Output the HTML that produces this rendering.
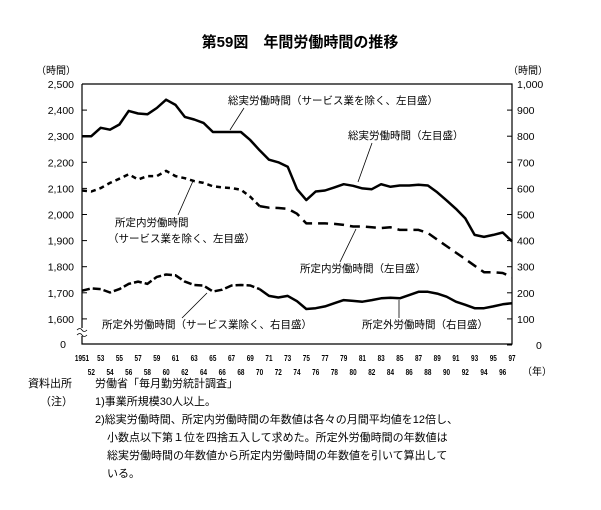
<!DOCTYPE html>
<html><head><meta charset="utf-8">
<style>
body{margin:0;background:#fff;}
svg text{font-family:"Liberation Sans","Noto Sans CJK JP",sans-serif;fill:#000;}
</style></head>
<body>
<svg id="chart" width="601" height="505" viewBox="0 0 601 505" xmlns="http://www.w3.org/2000/svg">
<text x="300" y="47" text-anchor="middle" font-size="15" font-weight="bold">第59図　年間労働時間の推移</text>
<text x="36" y="74" font-size="10">（時間）</text>
<text x="508" y="74" font-size="10">（時間）</text>
<g id="axes"></g>
<g id="series"></g>
<g font-size="10.5">
<text x="228" y="104">総実労働時間（サービス業を除く、左目盛）</text>
<line x1="244" y1="108" x2="230" y2="130" stroke="#000" stroke-width="0.8"/>
<text x="348" y="139">総実労働時間（左目盛）</text>
<line x1="372" y1="143" x2="358" y2="182" stroke="#000" stroke-width="0.8"/>
<text x="115" y="226">所定内労働時間</text>
<text x="108" y="242">（サービス業を除く、左目盛）</text>
<line x1="178" y1="215" x2="193" y2="181" stroke="#000" stroke-width="0.8"/>
<text x="300" y="272">所定内労働時間（左目盛）</text>
<line x1="340" y1="262" x2="356" y2="229" stroke="#000" stroke-width="0.8"/>
<text x="102" y="328">所定外労働時間（サービス業除く、右目盛）</text>
<line x1="182" y1="318" x2="207" y2="293" stroke="#000" stroke-width="0.8"/>
<text x="362" y="328">所定外労働時間（右目盛）</text>
<line x1="399" y1="318" x2="399" y2="300" stroke="#000" stroke-width="0.8"/>
</g>
<g font-size="11">
<text x="28" y="387">資料出所</text>
<text x="95" y="387">労働省「毎月勤労統計調査」</text>
<text x="40" y="405">（注）</text>
<text x="95" y="405">1)事業所規模30人以上。</text>
<text x="95" y="423">2)総実労働時間、所定内労働時間の年数値は各々の月間平均値を12倍し、</text>
<text x="107" y="441">小数点以下第１位を四捨五入して求めた。所定外労働時間の年数値は</text>
<text x="107" y="459">総実労働時間の年数値から所定内労働時間の年数値を引いて算出して</text>
<text x="107" y="477">いる。</text>
</g>
</svg>
<script>
const years = [1951,1952,1953,1954,1955,1956,1957,1958,1959,1960,1961,1962,1963,1964,1965,1966,1967,1968,1969,1970,1971,1972,1973,1974,1975,1976,1977,1978,1979,1980,1981,1982,1983,1984,1985,1986,1987,1988,1989,1990,1991,1992,1993,1994,1995,1996,1997];
const totalHours = [2300,2300,2332,2325,2345,2397,2387,2384,2408,2440,2420,2374,2364,2351,2316,2316,2316,2316,2285,2246,2210,2200,2183,2097,2055,2088,2092,2104,2116,2110,2100,2097,2116,2106,2111,2111,2114,2111,2085,2054,2022,1985,1922,1914,1922,1931,1897];
const scheduledHours = [2092,2088,2101,2121,2137,2154,2134,2147,2147,2167,2147,2139,2128,2121,2108,2104,2101,2095,2068,2032,2026,2025,2022,2003,1966,1966,1966,1964,1960,1954,1954,1951,1948,1951,1941,1941,1941,1929,1904,1879,1854,1829,1804,1779,1779,1776,1760];
const overtimeHours = [208,217,214,201,214,234,243,234,261,270,267,243,230,228,205,212,228,230,228,214,188,182,188,168,138,141,148,160,172,169,166,172,179,181,179,191,204,204,197,185,166,154,141,141,148,156,160];
const splitYear = 1970;
const leftTicks = [1600,1700,1800,1900,2000,2100,2200,2300,2400,2500];
const leftTickLabels = ["1,600","1,700","1,800","1,900","2,000","2,100","2,200","2,300","2,400","2,500"];
const rightTicks = [0,100,200,300,400,500,600,700,800,900,1000];
const rightTickLabels = ["0","100","200","300","400","500","600","700","800","900","1,000"];

const NS="http://www.w3.org/2000/svg";
const X0=82,X1=512,Y0=84,YB=344;
const pxPer=26.1/100;
function xScale(yr){return X0+(yr-years[0])*(X1-X0)/(years[years.length-1]-years[0]);}
function yLeft(v){return Y0+(2500-v)*pxPer;}
function yRight(v){return Y0+(1000-v)*pxPer;}
function mk(tag,attrs,parent){const e=document.createElementNS(NS,tag);for(const k in attrs)e.setAttribute(k,attrs[k]);parent.appendChild(e);return e;}
const axes=document.getElementById('axes');
const series=document.getElementById('series');

const frame=mk('path',{d:`M${X0},${Y0}H${X1}V${YB}H${X0}V${Y0}`,fill:'none',stroke:'#000','stroke-width':1.2},axes);


const brk=mk('rect',{x:X0-4,y:328,width:8,height:8,fill:'#fff'},axes);


mk('path',{d:`M${X0-5},330q3,-3 5,0t5,0M${X0-5},335q3,-3 5,0t5,0`,fill:'none',stroke:'#000','stroke-width':0.8},axes);

leftTicks.forEach((v,i)=>{
  const y=yLeft(v);
  const t=mk('line',{x1:X0,x2:X0+5,y1:y,y2:y,stroke:'#000','stroke-width':1},axes);
  
  
  const l=mk('text',{x:X0-8,y:y+4,'text-anchor':'end','font-size':10.5},axes);
  l.textContent=leftTickLabels[i];
  
  
});
const z=mk('text',{x:X0-16,y:YB+4,'text-anchor':'end','font-size':10.5},axes);
z.textContent='0';



rightTicks.forEach((v,i)=>{
  const y=yRight(v);
  const t=mk('line',{x1:X1-5,x2:X1,y1:y,y2:y,stroke:'#000','stroke-width':1},axes);
  
  
  const l=mk('text',{x:X1+(v===0?24:5),y:y+4,'font-size':10.5},axes);
  l.textContent=rightTickLabels[i];
  
  
});

years.forEach((yr,i)=>{
  const x=xScale(yr);
  const odd=(i%2===0);
  const l=mk('text',{x:x,y:odd?361:375,'text-anchor':'middle','font-size':8,'font-weight':'bold',transform:`translate(${x},0) scale(0.8,1) translate(${-x},0)`},axes);
  l.textContent=(i===0)?'1951':String(yr%100);
  
  
});
const yl=mk('text',{x:522,y:375,'font-size':10},axes);
yl.textContent='（年）';



function seg(vals,yf,from,to,dash,name){
  const pts=[];
  vals.forEach((v,i)=>{if(years[i]>=from&&years[i]<=to)pts.push(xScale(years[i]).toFixed(1)+','+yf(v).toFixed(1));});
  const p=mk('path',{d:'M'+pts.join('L'),fill:'none',stroke:'#000','stroke-width':2.5,'stroke-linejoin':'round'},series);
  if(dash)p.setAttribute('stroke-dasharray',dash);
  
  
}
const yEnd=years[years.length-1];
seg(totalHours,yLeft,years[0],yEnd,null,'total-hours-line');
seg(scheduledHours,yLeft,years[0],splitYear,'5,4','scheduled-hours-line-service-excluded');
seg(scheduledHours,yLeft,splitYear,yEnd,'10,6','scheduled-hours-line');
seg(overtimeHours,yRight,years[0],splitYear,'8,3','overtime-hours-line-service-excluded');
seg(overtimeHours,yRight,splitYear,yEnd,null,'overtime-hours-line');
</script>
</body></html>
